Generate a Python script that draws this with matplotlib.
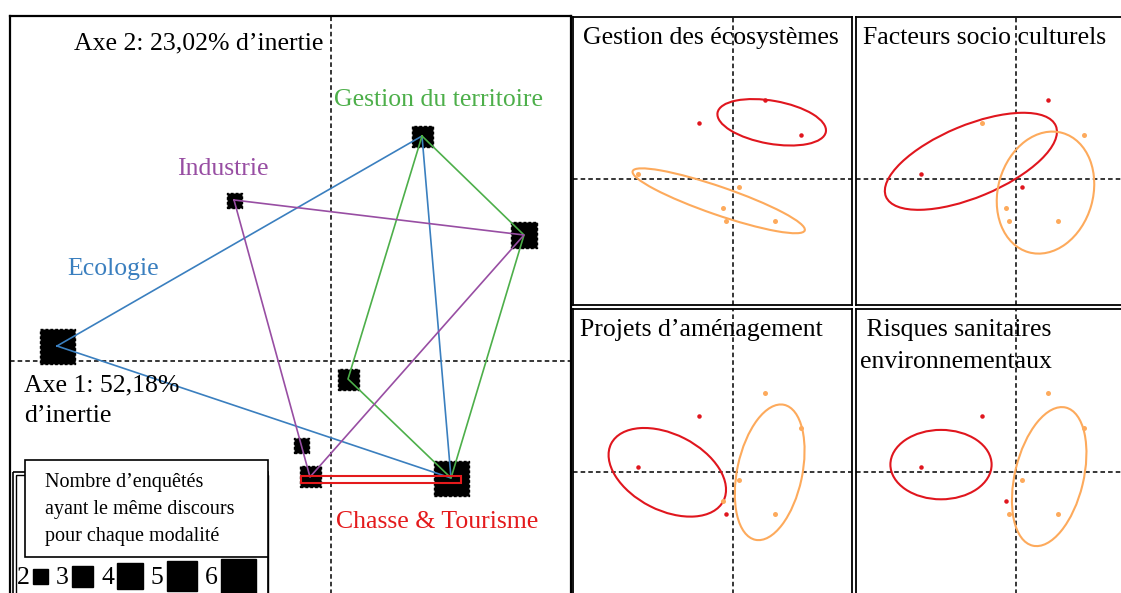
import matplotlib
matplotlib.use("Agg")
import matplotlib.pyplot as plt
from matplotlib.patches import Ellipse, Rectangle

plt.rcParams["font.family"] = ["Liberation Serif", "DejaVu Serif"]

W, H = 1121, 593

# --- left panel: modalities on the first factorial plane (factor scores)
mod_names = ["A", "B", "C", "D", "E", "F", "G", "H"]
mod_x = [0.91, -0.97, 1.93, -2.74, 0.17, -0.30, -0.21, 1.20]
mod_y = [2.25, 1.61, 1.26, 0.15, -0.18, -0.84, -1.16, -1.17]
mod_n = [3, 2, 4, 6, 3, 2, 3, 6]          # respondents per modality

groups = ["Ecologie", "Gestion du territoire", "Industrie", "Chasse & Tourisme"]
group_paths = [["D", "A", "H", "D"],
               ["A", "C", "H", "E", "A"],
               ["B", "C", "G", "B"],
               ["G", "H"]]

legend_counts = [2, 3, 4, 5, 6]
legend_lines = ["Nombre d’enquêtés", "ayant le même discours", "pour chaque modalité"]

# --- right panels: 8 respondents, two clusters per theme
ind_x = [0.32, -0.34, 0.68, -0.95, 0.065, -0.10, -0.07, 0.42]
ind_y = [0.79, 0.56, 0.44, 0.055, -0.077, -0.29, -0.42, -0.42]

themes = [["Gestion des écosystèmes"], ["Facteurs socio culturels"],
          ["Projets d’aménagement"], [" Risques sanitaires", "environnementaux"]]
red_members = [[0, 1, 2], [0, 3, 4], [1, 3, 6], [1, 3, 5]]
# ellipses: centre x, centre y, semi-major, semi-minor, angle (deg)
red_ellipses = [(0.39, 0.57, 0.55, 0.215, -10),
                (-0.446, 0.18, 0.92, 0.36, 22.6),
                (-0.654, 0.0, 0.63, 0.38, -27),
                (-0.745, 0.077, 0.506, 0.347, 0)]
orange_ellipses = [(-0.14, -0.215, 0.91, 0.14, -19),
                   (0.30, -0.133, 0.62, 0.475, 74),
                   (0.37, 0.0, 0.69, 0.325, 78),
                   (0.337, -0.043, 0.71, 0.343, 76.5)]

# styles
SQ_PX = {2: 15, 3: 21, 4: 26, 5: 30, 6: 35}
group_colors = ["#3a7fbf", "#4daf4a", "#984ea3", "#e41a1c"]
RED, ORANGE = "#e0161e", "#fdaa5c"
DASH = (0, (3, 2))
FS = 18.5


def pt(px):
    return px * 72 / 100


fig = plt.figure(figsize=(W / 100, H / 100), dpi=100)


def px_axes(x0, y0, x1, y1, cx, cy):
    a = fig.add_axes([x0 / W, 1 - y1 / H, (x1 - x0) / W, (y1 - y0) / H])
    a.set_xlim((x0 - cx) / 100, (x1 - cx) / 100)
    a.set_ylim((cy - y1) / 100, (cy - y0) / 100)
    a.set_xticks([]); a.set_yticks([])
    a.axhline(0, color="black", lw=1.1, ls=DASH, zorder=1)
    a.axvline(0, color="black", lw=1.1, ls=DASH, zorder=1)
    return a


# left panel
ax = px_axes(10, 16, 571, 600, 331, 361)
for s in ax.spines.values():
    s.set_linewidth(1.6)
ax.scatter(mod_x, mod_y, s=[pt(SQ_PX[n]) ** 2 for n in mod_n], marker="s",
           c="black", edgecolors="black", linewidths=1.0,
           linestyles=(0, (2, 1.5)), zorder=2)
pos = dict(zip(mod_names, zip(mod_x, mod_y)))
for g, path, col in zip(groups, group_paths, group_colors):
    xs = [pos[k][0] for k in path]
    ys = [pos[k][1] for k in path]
    if len(path) == 2:
        pad, h = 0.095, 0.07
        yc = (ys[0] + ys[1]) / 2 - 0.02
        ax.add_patch(Rectangle((xs[0] - pad, yc - h / 2), xs[1] - xs[0] + 2 * pad, h,
                               fill=False, edgecolor=col, lw=1.5, zorder=4))
    else:
        ax.plot(xs, ys, color=col, lw=1.2, zorder=3)

# right panels
cols = [(573.5, 851.5, 732.7), (855.5, 1125, 1015.5)]
rows = [(16.5, 305, 179.3), (309, 597, 472.3)]
for k in range(len(themes)):
    y0, y1, cy = rows[k // 2]
    x0, x1, cx = cols[k % 2]
    a = px_axes(x0, y0, x1, y1, cx, cy)
    for s in a.spines.values():
        s.set_linewidth(1.3)
    for (ex, ey, ea, eb, ang), col in ((red_ellipses[k], RED), (orange_ellipses[k], ORANGE)):
        a.add_patch(Ellipse((ex, ey), 2 * ea, 2 * eb, angle=ang, fill=False,
                            edgecolor=col, lw=1.5, zorder=3))
    reds = red_members[k]
    ox = [x for i, x in enumerate(ind_x) if i not in reds]
    oy = [y for i, y in enumerate(ind_y) if i not in reds]
    a.scatter(ox, oy, s=pt(5) ** 2, c=ORANGE, linewidths=0, zorder=4)
    a.scatter([ind_x[i] for i in reds], [ind_y[i] for i in reds],
              s=pt(4.5) ** 2, c=RED, linewidths=0, zorder=4)

# overlay for labels and legend (pixel coordinates)
ov = fig.add_axes([0, 0, 1, 1])
ov.set_xlim(0, W); ov.set_ylim(H, 0); ov.axis("off")
ov.patch.set_alpha(0)

ov.text(323, 43, "Axe 2: 23,02% d’inertie", fontsize=FS, va="center", ha="right")
ov.text(24, 385, "Axe 1: 52,18%", fontsize=FS, va="center")
ov.text(24, 416, "d’inertie", fontsize=FS, va="center")
label_xy = [(67, 269), (334, 100), (177, 169), (336, 522)]
for g, col, (lx, ly) in zip(groups, group_colors, label_xy):
    ov.text(lx, ly, g, color=col, fontsize=FS, va="center")

title_xy = [(583, 38), (863, 38), (580, 330), (860, 330)]
for lines, (tx, ty) in zip(themes, title_xy):
    for j, t in enumerate(lines):
        ov.text(tx, ty + 32 * j, t, fontsize=FS, va="center")

# legend
ov.add_patch(Rectangle((13, 472), 255, 140, fill=False, lw=1.2, zorder=5))
ov.add_patch(Rectangle((16, 475), 252, 140, fill=False, lw=1.0, zorder=5))
ov.add_patch(Rectangle((25, 460), 243, 97, facecolor="white", edgecolor="black",
                       lw=1.2, zorder=6))
for j, t in enumerate(legend_lines):
    ov.text(45, 482 + 27.5 * j, t, fontsize=14.5, va="center", zorder=7)
x = 17
for n in legend_counts:
    ov.text(x, 578, str(n), fontsize=FS, va="center", zorder=7)
    x += 16
    side = SQ_PX[n]
    ov.add_patch(Rectangle((x, 576 - side / 2), side, side, color="black", zorder=7))
    x += side + 8

fig.savefig("out.png", dpi=100)
